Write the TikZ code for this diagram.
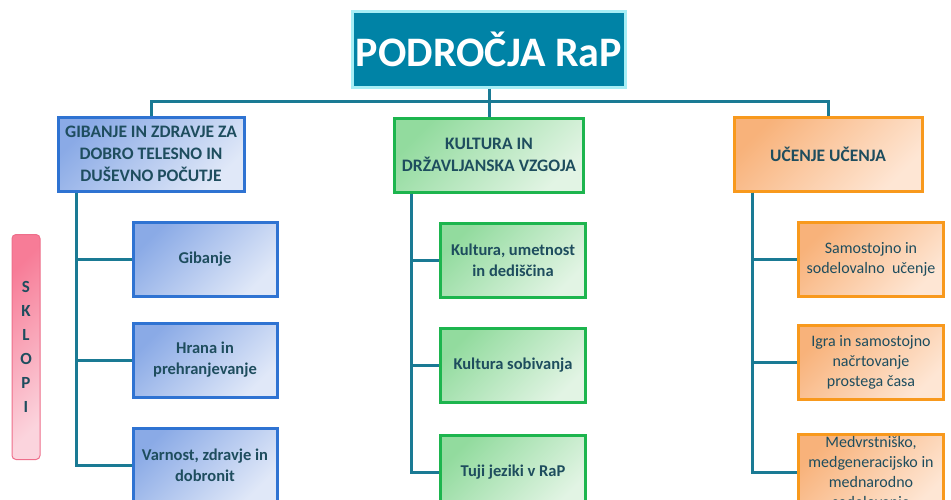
\documentclass[tikz,border=0pt]{standalone}
\usepackage{fontspec}
\setmainfont{Carlito}
\usetikzlibrary{positioning}
\definecolor{txt}{HTML}{1E4D5E}
\definecolor{linec}{HTML}{1A7A94}
\definecolor{rapfill}{HTML}{0083A6}
\definecolor{raprim}{HTML}{A6EEF5}
\definecolor{blueline}{HTML}{2F73D2}
\definecolor{bluetop}{HTML}{8AAAE6}
\definecolor{bluebot}{HTML}{E0E8F8}
\definecolor{greenline}{HTML}{1DB54E}
\definecolor{greentop}{HTML}{92DB9E}
\definecolor{greenbot}{HTML}{E2F4E4}
\definecolor{orangeline}{HTML}{F8991D}
\definecolor{orangetop}{HTML}{F8B27A}
\definecolor{orangebot}{HTML}{FEE6D4}
\definecolor{pinkline}{HTML}{EE6F8B}
\definecolor{pinktop}{HTML}{F77C97}
\definecolor{pinkbot}{HTML}{FBD4DD}
\tikzset{
  box/.style={draw, line width=3pt, inner sep=2pt, align=center, minimum height=74pt},
  bluebox/.style={box, draw=blueline, top color=bluetop, bottom color=bluebot, shading angle=45},
  greenbox/.style={box, draw=greenline, top color=greentop, bottom color=greenbot, shading angle=45},
  orangebox/.style={box, draw=orangeline, top color=orangetop, bottom color=orangebot, shading angle=45},
  headfont/.style={font=\bfseries\fontsize{17.5}{22}\selectfont},
  conn/.style={draw=linec, line width=3pt}
}
\begin{document}
\begin{tikzpicture}[x=1pt, y=-1pt, text=txt, node distance=27pt,
  font=\bfseries\fontsize{16.5}{21}\selectfont]
  \useasboundingbox (0,0) rectangle (951,499);
  % naslov
  \node (rap) [draw=raprim, fill=rapfill, line width=3pt, minimum width=272pt, minimum height=76pt,
    text=white, font=\bfseries\fontsize{42}{50}\selectfont] at (489,49) {PODROČJA RaP};
  % podrocja
  \node (gib) [bluebox, headfont, minimum width=186pt] at (151,154) {GIBANJE IN ZDRAVJE ZA\\DOBRO TELESNO IN\\DUŠEVNO POČUTJE};
  \node (kul) [greenbox, headfont, minimum width=189pt] at (489,155) {KULTURA IN\\DRŽAVLJANSKA VZGOJA};
  \node (uce) [orangebox, headfont, minimum width=188pt] at (828,154) {UČENJE UČENJA};
  % sklopi
  \node (g1) [bluebox, minimum width=144pt] at (205,259) {Gibanje};
  \node (g2) [bluebox, minimum width=144pt, below=24pt of g1] {Hrana in\\prehranjevanje};
  \node (g3) [bluebox, minimum width=144pt, below=28pt of g2] {Varnost, zdravje in\\dobronit};
  \node (k1) [greenbox, minimum width=145pt] at (513,260) {Kultura, umetnost\\in dediščina};
  \node (k2) [greenbox, minimum width=145pt, below=28pt of k1] {Kultura sobivanja};
  \node (k3) [greenbox, minimum width=145pt, below=30pt of k2] {Tuji jeziki v RaP};
  \begin{scope}[font=\fontsize{16}{20}\selectfont]
    \node (u1) [orangebox, minimum width=145pt] at (871,259) {Samostojno in\\sodelovalno~ učenje};
    \node (u2) [orangebox, minimum width=145pt, below=26pt of u1] {Igra in samostojno\\načrtovanje\\prostega časa};
    \node (u3) [orangebox, minimum width=145pt, below=32pt of u2] {Medvrstniško,\\medgeneracijsko in\\mednarodno\\sodelovanje};
  \end{scope}
  \node (skl) [draw=pinkline, line width=1pt, rounded corners=4pt, top color=pinktop, bottom color=pinkbot,
    shading angle=45, minimum width=28pt, minimum height=225pt, inner sep=0pt, align=center,
    font=\bfseries\fontsize{17}{24}\selectfont] at (26,347) {S\\K\\L\\O\\P\\I};
  % povezave
  \coordinate (bus) at (489,101);
  \draw[conn] (rap.south) -- (kul.north);
  \draw[conn] (bus) -| (gib.north);
  \draw[conn] (bus) -| (uce.north);
  \foreach \n in {g1,g2,g3}
    \draw[conn] ([xshift=20pt]gib.south west) |- (\n.west);
  \foreach \n in {k1,k2,k3}
    \draw[conn] ([xshift=18pt]kul.south west) |- (\n.west);
  \foreach \n in {u1,u2,u3}
    \draw[conn] ([xshift=20pt]uce.south west) |- (\n.west);
\end{tikzpicture}
\end{document}
